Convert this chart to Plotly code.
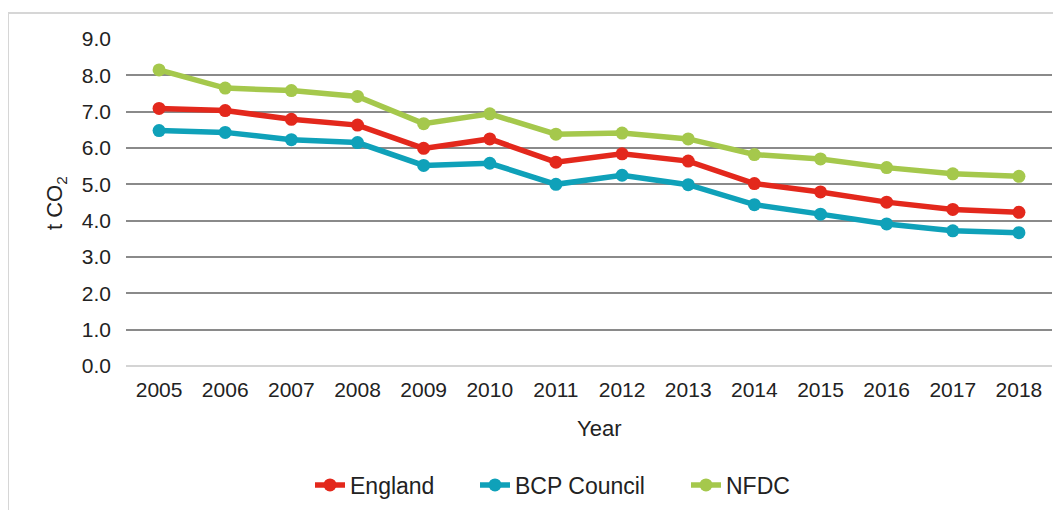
import plotly.graph_objects as go

years = ["2005", "2006", "2007", "2008", "2009", "2010", "2011",
         "2012", "2013", "2014", "2015", "2016", "2017", "2018"]
england = [7.09, 7.03, 6.79, 6.63, 5.99, 6.25, 5.61, 5.84, 5.64, 5.02, 4.79, 4.51, 4.31, 4.23]
bcp = [6.48, 6.43, 6.23, 6.15, 5.52, 5.58, 5.00, 5.25, 4.99, 4.44, 4.18, 3.91, 3.72, 3.67]
nfdc = [8.15, 7.65, 7.58, 7.42, 6.67, 6.94, 6.38, 6.41, 6.25, 5.82, 5.70, 5.46, 5.29, 5.22]
y_ticks = [0, 1, 2, 3, 4, 5, 6, 7, 8, 9]

series = [("England", england, "#E3281C", "legend"),
          ("BCP Council", bcp, "#0FA1B9", "legend2"),
          ("NFDC", nfdc, "#A5C84C", "legend3")]

fig = go.Figure()
for name, vals, col, lg in series:
    fig.add_trace(go.Scatter(x=years, y=vals, name=name, mode="lines+markers",
                             line=dict(color=col, width=5.5),
                             marker=dict(color=col, size=13), legend=lg))

font = "Liberation Sans, Arial, sans-serif"
OFF = 8  # page body margin
W, H = 1061 - OFF, 510 - OFF
L, T = 126 - OFF, 39 - OFF
R = W - (1052 - OFF)
B = H - (366 - OFF)
pw, ph = W - L - R, H - T - B


def px(xpage):
    return (xpage - OFF - L) / pw


def py(ypage):
    return (T + ph - (ypage - OFF)) / ph


def leg(xpage):
    return dict(orientation="h", x=px(xpage), xanchor="left",
                y=py(485), yanchor="middle",
                font=dict(size=23, color="#222222"))


fig.update_layout(
    width=W, height=H,
    margin=dict(l=L, r=R, t=T, b=B, autoexpand=False),
    paper_bgcolor="white", plot_bgcolor="white",
    font=dict(family=font, size=21, color="#222222"),
    showlegend=True,
    legend=leg(310),
    legend2=leg(475),
    legend3=leg(686),
    xaxis=dict(type="category", range=[-0.5, 13.5], showgrid=False, zeroline=False,
               showline=False, ticks="", tickfont=dict(size=21), automargin=False,
               ticklabelstandoff=9),
    yaxis=dict(range=[0, 9], tickvals=y_ticks, tickformat=".1f", showgrid=True,
               gridcolor="#8a8a8a", gridwidth=2, zeroline=True, zerolinecolor="#d4d4d4",
               zerolinewidth=2, showline=False, ticks="", tickfont=dict(size=21),
               ticklabelstandoff=14, automargin=False),
    annotations=[
        dict(text="Year", xref="paper", yref="paper", x=px(599),
             y=py(428), xanchor="center", yanchor="middle",
             showarrow=False, font=dict(size=22, color="#222222")),
        dict(text="t CO<sub>2</sub>", xref="paper", yref="paper", x=px(56),
             y=py(203), xanchor="center", yanchor="middle", textangle=-90,
             showarrow=False, font=dict(size=22, color="#222222")),
    ],
    shapes=[dict(type="rect", xref="paper", yref="paper",
                 x0=px(8), x1=px(1075),
                 y0=py(530), y1=py(13),
                 line=dict(color="#d6d6d6", width=2), layer="below")],
)

fig.write_html("out.html")
